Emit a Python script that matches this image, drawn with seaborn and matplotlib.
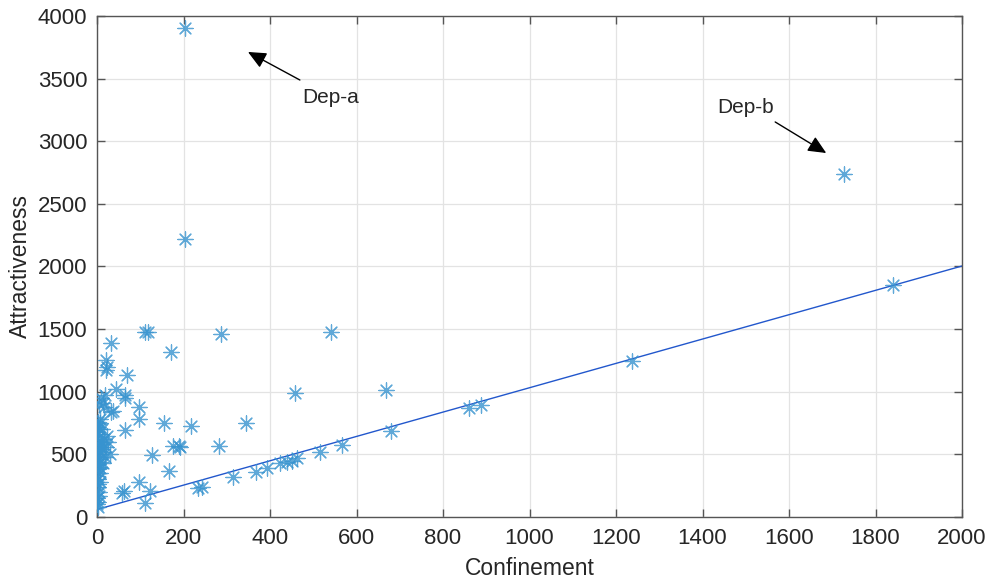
import numpy as np
import pandas as pd
import matplotlib
matplotlib.use("Agg")
import matplotlib.pyplot as plt
import seaborn as sns

sns.set_style("whitegrid")
plt.rcParams["font.family"] = ["Liberation Sans", "DejaVu Sans"]

# ========== 数据 ==========
# 分散点 (Confinement, Attractiveness)
conf_main = [111, 118, 287, 32, 171, 20, 23, 21, 69, 45, 65, 18, 96, 38, 96, 156,
             217, 65, 176, 190, 281, 126, 167, 96, 122, 57, 63, 111, 234, 243,
             541, 458, 344, 192, 315, 368, 394, 423, 439, 450, 462, 516, 567,
             668, 679, 859, 887, 1236, 1727, 1840, 203, 203, 14, 10, 33, 64]
attr_main = [1480, 1480, 1461, 1389, 1320, 1250, 1200, 1170, 1134, 1020, 953, 974,
             881, 846, 780, 748, 730, 695, 570, 570, 570, 495, 370, 282, 210, 195,
             210, 109, 229, 242, 1480, 988, 753, 562, 322, 362, 394, 428, 442, 450,
             468, 522, 575, 1014, 687, 868, 894, 1245, 2738, 1852, 3904, 2220, 910,
             948, 841, 974]

# x≈0 附近的密集点
conf_cluster = [2, 3, 1, 4, 5, 2, 6, 3, 1, 8, 2, 5, 3, 7, 4, 1, 2, 10, 12, 6, 3, 9,
                15, 4, 2, 1, 5, 3, 20, 25, 18, 14, 8, 30, 22, 11, 6, 2, 4, 16, 1, 3,
                7, 2, 5]
attr_cluster = [80, 120, 150, 170, 200, 240, 280, 300, 330, 350, 380, 400, 420,
                440, 460, 480, 500, 520, 540, 560, 580, 600, 620, 640, 660, 680,
                700, 720, 560, 600, 480, 430, 750, 500, 650, 700, 780, 760, 900,
                880, 100, 260, 390, 610, 530]

# 拟合直线
fit_slope = 0.972
fit_intercept = 60
fit_range = [0, 2000]

df = pd.DataFrame({
    "Confinement": conf_main + conf_cluster,
    "Attractiveness": attr_main + attr_cluster,
})
fit_x = np.array(fit_range, dtype=float)
df_fit = pd.DataFrame({"x": fit_x, "y": fit_slope * fit_x + fit_intercept})

# ========== 绘图 ==========
fig = plt.figure(figsize=(9.87, 5.82), dpi=100)
ax = fig.add_axes([0.0983, 0.1117, 0.8764, 0.8608])

sns.lineplot(data=df_fit, x="x", y="y", color="#2257cc", linewidth=1.0, ax=ax)
sns.scatterplot(data=df, x="Confinement", y="Attractiveness", marker=(8, 2, 0),
                s=120, color="#3793cf", edgecolor="#3793cf", linewidth=0.9,
                alpha=0.8, ax=ax, zorder=3)

ax.set_xlim(0, 2000)
ax.set_ylim(0, 4000)
ax.set_xticks(np.arange(0, 2001, 200))
ax.set_yticks(np.arange(0, 4001, 500))
ax.grid(True, color="#e3e3e3", linewidth=0.9)
for sp in ax.spines.values():
    sp.set_color("#555555")
    sp.set_linewidth(1.0)
ax.tick_params(direction="in", length=6, width=1.0, color="#555555",
               labelsize=16, labelcolor="#262626", top=True, right=True,
               bottom=True, left=True)
ax.tick_params(axis="x", pad=8)
ax.tick_params(axis="y", pad=7)
ax.set_xlabel("Confinement", fontsize=16.5, color="#262626", labelpad=6)
ax.set_ylabel("Attractiveness", fontsize=16.5, color="#262626", labelpad=4)

arrow_kw = dict(arrowstyle="-|>,head_length=1.1,head_width=0.5", color="black",
                lw=1.0, shrinkA=0, shrinkB=0)
ax.annotate("", xy=(349, 3713), xytext=(469, 3489), arrowprops=arrow_kw)
ax.text(539, 3353, "Dep-a", fontsize=15, ha="center", va="center")
ax.annotate("", xy=(1686, 2906), xytext=(1568, 3154), arrowprops=arrow_kw)
ax.text(1500, 3273, "Dep-b", fontsize=15, ha="center", va="center")

plt.savefig("out.png", dpi=100)
